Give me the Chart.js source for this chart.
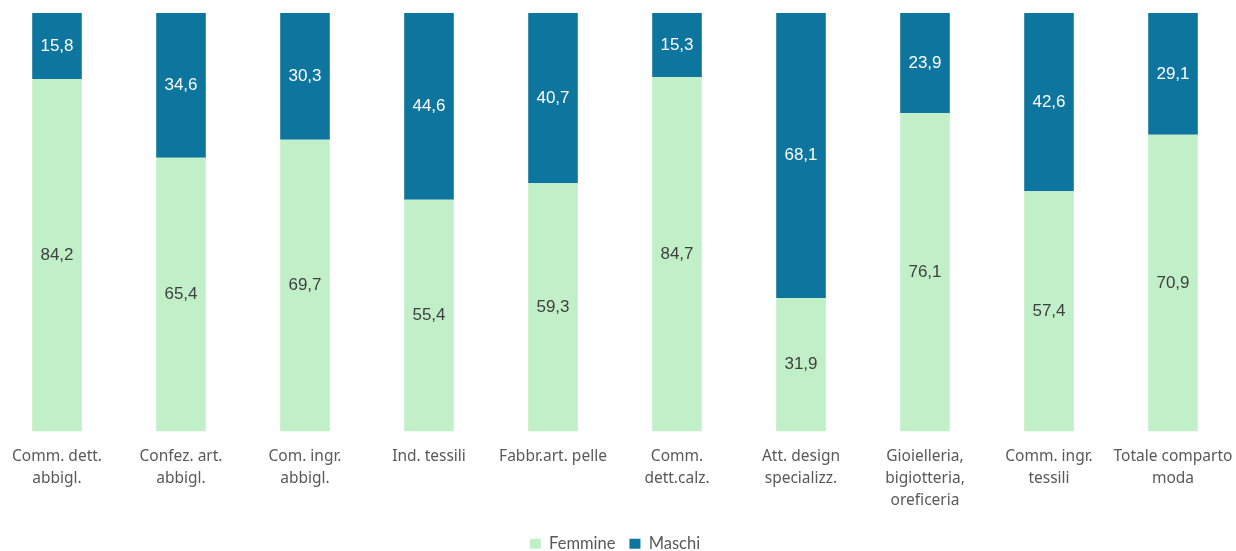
<!DOCTYPE html>
<html lang="it">
<head>
<meta charset="utf-8">
<title>Occupati per genere - comparto moda</title>
<script src="https://cdn.jsdelivr.net/npm/chart.js@4.4.1/dist/chart.umd.min.js"></script>
<style>
  html, body { margin: 0; padding: 0; background: #fff; overflow: hidden; }
  #wrap { position: absolute; left: -5px; top: 0; width: 1240px; height: 551px; }
</style>
</head>
<body>
<div id="wrap"><canvas id="genderChart"></canvas></div>
<script>
// ==========================
// Dati
// ==========================
const categories = [
  ['Comm. dett.', 'abbigl.'],
  ['Confez. art.', 'abbigl.'],
  ['Com. ingr.', 'abbigl.'],
  'Ind. tessili',
  'Fabbr.art. pelle',
  ['Comm.', 'dett.calz.'],
  ['Att. design', 'specializz.'],
  ['Gioielleria,', 'bigiotteria,', 'oreficeria'],
  ['Comm. ingr.', 'tessili'],
  ['Totale comparto', 'moda']
];
const femmine = [84.2, 65.4, 69.7, 55.4, 59.3, 84.7, 31.9, 76.1, 57.4, 70.9];
const maschi  = [15.8, 34.6, 30.3, 44.6, 40.7, 15.3, 68.1, 23.9, 42.6, 29.1];

const GREEN = '#C1F0C8';
const BLUE = '#0E759E';

// ==========================
// Etichette valori al centro dei segmenti
// ==========================
const segmentLabels = {
  id: 'segmentLabels',
  afterDatasetsDraw(chart) {
    const ctx = chart.ctx;
    ctx.save();
    ctx.font = '17px "Liberation Sans", Arial, sans-serif';
    ctx.textAlign = 'center';
    ctx.textBaseline = 'middle';
    chart.data.datasets.forEach((ds, di) => {
      const meta = chart.getDatasetMeta(di);
      ctx.fillStyle = ds.labelColor;
      meta.data.forEach((bar, i) => {
        const v = ds.data[i];
        const y = (bar.y + bar.base) / 2;
        ctx.fillText(v.toFixed(1).replace('.', ','), bar.x, y);
      });
    });
    ctx.restore();
  }
};

new Chart(document.getElementById('genderChart'), {
  type: 'bar',
  data: {
    labels: categories,
    datasets: [
      { label: 'Femmine', data: femmine, backgroundColor: GREEN, labelColor: '#404040' },
      { label: 'Maschi', data: maschi, backgroundColor: BLUE, labelColor: '#ffffff' }
    ]
  },
  options: {
    responsive: true,
    maintainAspectRatio: false,
    animation: false,
    layout: { padding: { top: 13, bottom: -11, left: 0, right: 0 } },
    datasets: {
      bar: { categoryPercentage: 1, barPercentage: 0.4, borderWidth: 0 }
    },
    scales: {
      x: {
        stacked: true,
        // tick marks hidden, tickLength only spaces the labels
        grid: { display: false, tickLength: 14 },
        border: { display: false },
        ticks: {
          color: '#595959',
          font: { family: '"Noto Sans", sans-serif', size: 15.5, lineHeight: 1.42 },
          padding: 0,
          maxRotation: 0,
          autoSkip: false
        },
        afterFit(axis) { axis.height = 90; }
      },
      y: {
        stacked: true,
        display: false,
        min: 0,
        max: 100
      }
    },
    plugins: {
      legend: {
        position: 'bottom',
        labels: {
          color: '#595959',
          font: { family: 'Lato, sans-serif', size: 16.5 },
          boxWidth: 11,
          boxHeight: 10,
          padding: 14
        }
      },
      tooltip: { enabled: false }
    }
  },
  plugins: [segmentLabels]
});
</script>
</body>
</html>
